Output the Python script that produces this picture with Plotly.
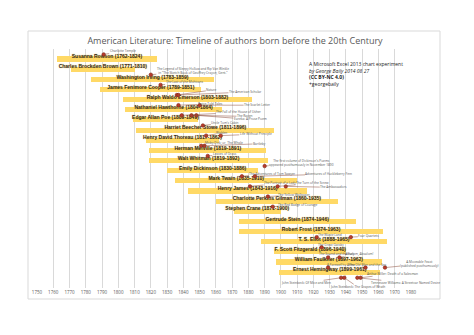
import plotly.graph_objects as go

# ---------------- data ----------------
authors = ["Susanna Rowson", "Charles Brockden Brown", "Washington Irving",
           "James Fenimore Cooper", "Ralph Waldo Emerson", "Nathaniel Hawthorne",
           "Edgar Allan Poe", "Harriet Beecher Stowe", "Henry David Thoreau",
           "Herman Melville", "Walt Whitman", "Emily Dickinson", "Mark Twain",
           "Henry James", "Charlotte Perkins Gilman", "Stephen Crane",
           "Gertrude Stein", "Robert Frost", "T. S. Eliot", "F. Scott Fitzgerald",
           "William Faulkner", "Ernest Hemingway"]
births = [1762, 1771, 1783, 1789, 1803, 1804, 1809, 1811, 1817, 1819, 1819, 1830,
          1835, 1843, 1860, 1871, 1874, 1874, 1888, 1896, 1897, 1899]
deaths = [1824, 1810, 1859, 1851, 1882, 1864, 1849, 1896, 1862, 1891, 1892, 1886,
          1910, 1916, 1935, 1900, 1946, 1963, 1965, 1940, 1962, 1961]

# works: row index of the author (22 = extra row below the authors), year, title
work_rows = [0, 2, 3, 4, 4, 5, 5, 6, 6, 6, 7, 8, 8, 9, 9, 10, 11, 12, 12, 13, 13, 13,
             14, 15, 18, 18, 19, 20, 20, 21, 21, 21, 22, 22, 22, 22]
work_years = [1791, 1820, 1826, 1836, 1837, 1837, 1850, 1839, 1845, 1848, 1852, 1854,
              1863, 1851, 1853, 1855, 1890, 1876, 1884, 1881, 1898, 1903, 1892, 1895,
              1922, 1943, 1925, 1929, 1936, 1929, 1952, 1964, 1937, 1939, 1947, 1949]
work_titles = [
    "Charlotte Temple",
    "The Legend of Sleepy Hollow and Rip Van Winkle<br>in \"The Sketch Book of Geoffrey Crayon, Gent.\"",
    "The Last of the Mohicans",
    "Nature",
    "The American Scholar",
    "Twice-Told Tales",
    "The Scarlet Letter",
    "The Fall of the House of Usher",
    "The Raven",
    "Eureka: A Prose Poem",
    "Uncle Tom's Cabin",
    "Walden",
    "Life Without Principle",
    "Moby-Dick; or, The Whale",
    "Bartleby",
    "Leaves of Grass",
    "The first volume of Dickinson's Poems<br>appeared posthumously in November 1890",
    "The Adventures of Tom Sawyer",
    "Adventures of Huckleberry Finn",
    "The Portrait of a Lady",
    "The Turn of the Screw",
    "The Ambassadors",
    "The Yellow Wallpaper",
    "The Red Badge of Courage",
    "The Waste Land",
    "Four Quartets",
    "The Great Gatsby",
    "The Sound and the Fury",
    "Absalom, Absalom!",
    "A Farewell to Arms",
    "The Old Man and the Sea",
    "A Moveable Feast<br>(published posthumously)",
    "John Steinbeck: Of Mice and Men",
    "John Steinbeck: The Grapes of Wrath",
    "Tennessee Williams: A Streetcar Named Desire",
    "Arthur Miller: Death of a Salesman",
]
tick_years = list(range(1750, 1981, 10))

# ---------------- layout (pixel offsets of callout texts) ----------------
label_dx = [19, 42, 24, 35, 67, 32, 58, 57, 53, 54, 22, 15, 35, 23, 55, 17, 37, 31, 74,
            30, 35, 48, 27, 25, 13, 18, 9, 9, 20, 13, 3, 35, -35, 13, 48, 32]
label_dy = [-3, -4, -2.5, -5, -3, -1, 0, -3, 1, 4, -2.5, -2.5, -1.5, -3, -2, -1.5, -3, -2,
            -2, -3, -3, 1, -1.5, -2, -2, -1, -2.5, -3, -3, -3, -3, -3.5, 5, 9, 5, -4]

W, H = 474, 335
L, R, T, B = 37, 63, 49, 47
plot_w, plot_h = W - L - R, H - T - B

fig = go.Figure()

rows = list(range(len(authors)))
fig.add_trace(go.Bar(
    orientation="h", y=rows, x=[d - b for b, d in zip(births, deaths)], base=births,
    width=0.5, marker=dict(color="#FFD966", line=dict(width=0)), hoverinfo="skip",
))

fig.add_trace(go.Scatter(
    x=[(b + d) / 2 for b, d in zip(births, deaths)],
    y=[r - 0.2 for r in rows],
    mode="text",
    text=[f"{a} ({b}-{d})" for a, b, d in zip(authors, births, deaths)],
    textposition="middle center",
    textfont=dict(family="Liberation Sans", size=5, color="#2e281e", weight="bold",
                  shadow="0px 0px 1.5px #F5C542"),
    cliponaxis=False, hoverinfo="skip",
))

wy = [r - 0.45 for r in work_rows]
fig.add_trace(go.Scatter(
    x=work_years, y=wy, mode="markers",
    marker=dict(size=3.5, color="#C0392B", line=dict(color="#7B2411", width=0.6)),
    cliponaxis=False, hoverinfo="skip",
))

annotations = []
for x, y, t, dx, dy in zip(work_years, wy, work_titles, label_dx, label_dy):
    annotations.append(dict(
        x=x, y=y, xref="x", yref="y", text=t, showarrow=True, arrowhead=0,
        arrowwidth=0.5, arrowcolor="#8B4A3A", ax=dx, ay=dy, standoff=0,
        borderpad=0, font=dict(family="Open Sans", size=3.2, color="#595959"),
    ))

annotations.append(dict(
    xref="paper", yref="paper", x=(307 - L) / plot_w, y=(T + plot_h - 59) / plot_h,
    xanchor="left", yanchor="top", align="left", showarrow=False,
    text="A Microsoft Excel 2013 chart experiment<br><i>by George Baily 2014 08 27</i>"
         "<br><b>(CC BY-NC 4.0)</b><br>+georgebaily",
    font=dict(family="Open Sans", size=5, color="#1a1a1a"),
))

shapes = [dict(
    type="rect", xref="paper", yref="paper",
    x0=(28 - L) / plot_w, x1=(440 - L) / plot_w,
    y0=(T + plot_h - 299) / plot_h, y1=(T + plot_h - 31) / plot_h,
    line=dict(color="#D9D9D9", width=1), fillcolor="rgba(0,0,0,0)", layer="below",
)]

fig.update_layout(
    width=W, height=H, margin=dict(l=L, r=R, t=T, b=B),
    paper_bgcolor="white", plot_bgcolor="white", showlegend=False,
    title=dict(text="American Literature: Timeline of authors born before the 20th Century",
               x=235 / W, xanchor="center", y=1 - 41 / H, yanchor="middle",
               yref="container", xref="container",
               font=dict(family="Open Sans", size=9, color="#595959")),
    xaxis=dict(range=[1750, 1980], tickvals=tick_years, showgrid=True,
               gridcolor="#D9D9D9", gridwidth=0.8, zeroline=False, showline=False,
               ticks="", tickfont=dict(family="Open Sans", size=4.5, color="#595959")),
    yaxis=dict(range=[22.56, -0.985], showgrid=False, zeroline=False,
               showticklabels=False, ticks=""),
    annotations=annotations, shapes=shapes, bargap=0,
)

fig.write_html("out.html")
